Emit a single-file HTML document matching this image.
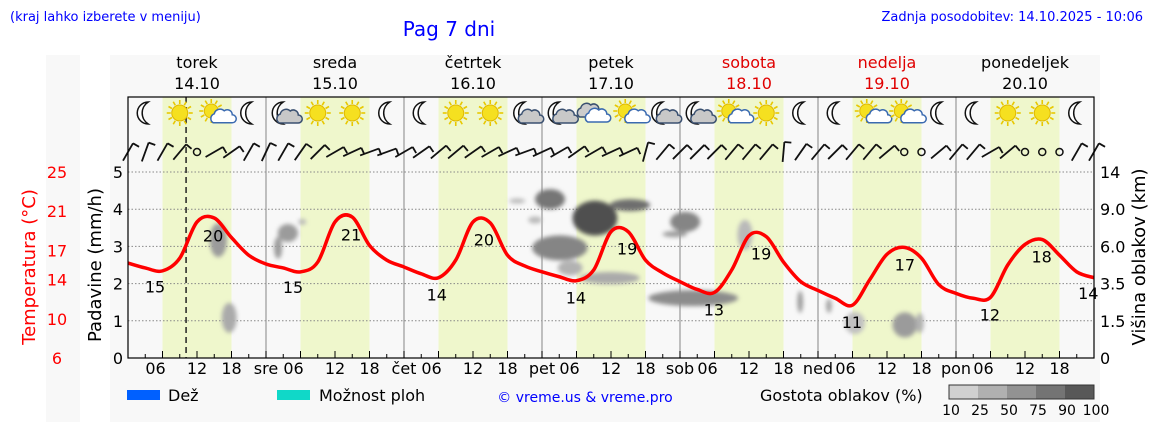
<!DOCTYPE html>
<html><head><meta charset="utf-8">
<style>
body{margin:0;background:#fff;font-family:"Liberation Sans","DejaVu Sans",sans-serif;}
svg{display:block}
text{font-family:"DejaVu Sans","Liberation Sans",sans-serif;}
</style></head>
<body>
<svg id="c" width="1152" height="443" viewBox="0 0 1152 443" xmlns="http://www.w3.org/2000/svg">
<defs>
<filter id="bl" x="-50%" y="-50%" width="200%" height="200%"><feGaussianBlur stdDeviation="2"/></filter>
</defs>
<rect x="46" y="55" width="34" height="367" fill="#f8f8f8"/>
<rect x="110" y="55" width="990" height="367" fill="#f8f8f8"/>
<text x="10" y="21" font-size="13" fill="#0000ff">(kraj lahko izberete v meniju)</text>
<text x="449" y="36" font-size="20" fill="#0000ff" text-anchor="middle">Pag 7 dni</text>
<text x="1143" y="21" font-size="13" fill="#0000ff" text-anchor="end">Zadnja posodobitev: 14.10.2025 - 10:06</text>
<g id="bands"></g>
<g id="grid"></g>
<g id="clouds" filter="url(#bl)"></g>
<g id="icons"></g>
<g id="wind"></g>
<g id="temp"></g>
<g id="axes"></g>
<g id="legend"></g>
</svg>
<script>
const days=["torek","sreda","četrtek","petek","sobota","nedelja","ponedeljek"];
const dates=["14.10","15.10","16.10","17.10","18.10","19.10","20.10"];
const dayAbbr=["sre","čet","pet","sob","ned","pon"];
const weekend=[false,false,false,false,true,true,false];
const rainTicks=[0,1,2,3,4,5];
const tempTicks=[6,10,14,17,21,25];
const cloudTicks=["0","1.5","3.5","6.0","9.0","14"];
// temperature every 3 hours from Tue 00:00
const temps=[15.7,15.2,14.9,16.2,19.9,20.3,18.3,16.5,15.6,15.2,14.8,15.8,19.9,20.4,17.5,16.0,15.3,14.6,14.2,16.0,19.9,19.8,16.5,15.4,14.8,14.3,13.9,15.0,18.9,18.9,16.0,14.7,13.8,13.0,12.7,15.0,18.5,18.4,15.8,13.8,12.9,12.1,11.4,14.0,16.6,17.3,16.2,13.5,12.6,12.1,12.2,15.5,17.6,18.1,16.5,14.8,14.2];
const labelHours=[4.7,14.8,28.7,38.8,53.7,61.9,77.9,86.8,101.9,110.1,125.9,135.1,149.9,158.9,167];
const labelVals=[15,20,15,21,14,20,14,19,13,19,11,17,12,18,14];
// icons per 6h slot
const icons=["moon","sun","suncloud","moon","mooncloud","sun","sun","moon","moon","sun","sun","mooncloud","mooncloud","clouds","suncloud","mooncloud","mooncloud","suncloud","sun","moon","moon","suncloud","suncloud","moon","moon","sun","sun","moon"];
// wind: angle of shaft from vertical, -1 = calm
const wind=[30,20,30,40,-1,60,55,30,25,30,35,45,60,65,70,70,60,55,50,50,55,60,65,70,65,60,55,60,65,65,15,40,45,45,45,40,40,40,5,35,40,45,40,40,50,-1,-1,50,40,40,60,50,-1,-1,-1,30,30];
// cloud cells: hour, rain-axis level, width (h), height (px), density %
const cloudHour=[15.7,17.6,26.1,27.8,30.3,67.7,70.8,73.4,81.2,87.3,75.1,76.9,83.8,96.9,95.1,98.3,107.3,116.9,121.9,126.4,135.1,137.7];
const cloudRain=[3.17,1.08,2.96,3.36,3.66,4.22,3.71,4.27,3.76,4.11,2.96,2.42,2.15,3.66,3.33,1.61,3.31,1.51,1.4,0.94,0.89,0.94];
const cloudW=[3,2.6,1.4,3.5,1.4,2.8,2.4,5.2,7.8,7,9.6,4.3,10.4,5.2,4.3,15.6,2.6,1,1,3.5,4.3,1.4];
const cloudH=[34,30,22,18,6,5,7,20,35,12,25,15,12,20,6,16,30,22,14,22,25,20];
const cloudD=[40,30,40,40,20,20,20,65,90,70,55,25,30,55,40,50,20,40,35,15,40,25];

const svg=document.getElementById('c');
const NS="http://www.w3.org/2000/svg";
const X0=128,DAYW=138,Y0=358,Y5=172;
const xH=h=>X0+h*DAYW/24;
const yR=r=>Y0-(Y0-Y5)*r/5;
const yT=t=>Y0-(t-6)*(Y0-Y5)/19;
function mk(tag,attrs,parent,text){const e=document.createElementNS(NS,tag);for(const k in attrs)e.setAttribute(k,attrs[k]);if(text!==undefined)e.textContent=text;(parent||svg).appendChild(e);return e;}
const G=id=>document.getElementById(id);

const bands=G('bands');
const plotBg=mk('rect',{x:X0,y:97,width:xH(168)-X0,height:Y0-97,fill:'#f8f8f8'},bands);


for(let d=0;d<7;d++){
 const b=mk('rect',{x:xH(d*24+6),y:97,width:DAYW/2,height:Y0-97,fill:'#eff7cc'},bands);
 
 
 const n=mk('text',{x:xH(d*24+12),y:68,'font-size':16,'text-anchor':'middle',fill:weekend[d]?'#e00000':'#000'},svg,days[d]);
 
 
 const dt=mk('text',{x:xH(d*24+12),y:89,'font-size':16,'text-anchor':'middle',fill:weekend[d]?'#e00000':'#000'},svg,dates[d]);
 
 
}
const grid=G('grid');
for(const r of rainTicks.slice(1)){
 const l=mk('line',{x1:X0,x2:xH(168),y1:yR(r),y2:yR(r),stroke:'#888','stroke-dasharray':'1.5,2','stroke-width':1},grid);
 
 
}
for(let d=1;d<7;d++){
 const l=mk('line',{x1:xH(d*24),x2:xH(d*24),y1:97,y2:Y0,stroke:'#999','stroke-width':1.2},grid);
 
 
}
const now=mk('line',{x1:xH(10.1),x2:xH(10.1),y1:97,y2:Y0,stroke:'#222','stroke-width':1.5,'stroke-dasharray':'6,4'},grid);



const grey=d=>{const v=Math.round(215-d*1.5);return `rgb(${v},${v},${v})`;};
for(let i=0;i<cloudHour.length;i++){
 const e=mk('ellipse',{cx:xH(cloudHour[i]),cy:yR(cloudRain[i]),rx:cloudW[i]*DAYW/48,ry:cloudH[i]/2,fill:grey(cloudD[i])},G('clouds'));
 
 
}

function sun(g,cx,cy,r){for(let a=0;a<12;a++){const t=a*Math.PI/6;mk('line',{x1:cx+Math.cos(t)*(r+1),y1:cy+Math.sin(t)*(r+1),x2:cx+Math.cos(t)*(r+5),y2:cy+Math.sin(t)*(r+5),stroke:'#e8c800','stroke-width':1.6},g);}mk('circle',{cx,cy,r,fill:'#f5e020',stroke:'#e0b800'},g);}
function moon(g,cx,cy){mk('path',{d:`M${cx+3} ${cy-11} A11 11 0 1 0 ${cx+3} ${cy+11} A13 13 0 0 1 ${cx+3} ${cy-11}Z`,fill:'#fff',stroke:'#111','stroke-width':1.5},g);}
function cloud(g,cx,cy,s,fill,stroke){mk('path',{d:`M${cx-10*s} ${cy+6*s} a5 5 0 0 1 1 -9 a6 6 0 0 1 10 -3 a5 5 0 0 1 8 4 a4 4 0 0 1 0 8 Z`,fill,stroke,'stroke-width':1.5},g);}
icons.forEach((t,i)=>{
 const cx=xH(i*6+3),cy=113;
 const g=mk('g',{},G('icons'));
 
 
 if(t==='moon')moon(g,cx,cy);
 if(t==='sun')sun(g,cx,cy,8);
 if(t==='suncloud'){sun(g,cx-3,cy-2,7);cloud(g,cx+7,cy+5,0.8,'#fff','#3a6ab0');}
 if(t==='mooncloud'){moon(g,cx-3,cy);cloud(g,cx+6,cy+4,1,'#c8c8c8','#3a5070');}
 if(t==='clouds'){cloud(g,cx-4,cy-2,1,'#ccc','#3a5070');cloud(g,cx+4,cy+3,1,'#fff','#3a6ab0');}
});

wind.forEach((a,i)=>{
 const cx=xH(i*3),cy=152;
 const g=mk('g',{},G('wind'));
 
 
 if(a<0){mk('circle',{cx,cy,r:3.5,fill:'none',stroke:'#111','stroke-width':1.5},g);return;}
 const t=a*Math.PI/180,L=20;
 const x1=cx-Math.sin(t)*L/2,y1=cy+Math.cos(t)*L/2,x2=cx+Math.sin(t)*L/2,y2=cy-Math.cos(t)*L/2;
 mk('line',{x1,y1,x2,y2,stroke:'#111','stroke-width':1.8},g);
 mk('line',{x1:x2,y1:y2,x2:x2+Math.cos(t)*7,y2:y2+Math.sin(t)*7,stroke:'#111','stroke-width':1.8},g);
});

const pts=temps.map((t,i)=>[xH(i*3),yT(t)]);
let d=`M${pts[0][0]} ${pts[0][1]}`;
for(let i=0;i<pts.length-1;i++){
 const p0=pts[Math.max(0,i-1)],p1=pts[i],p2=pts[i+1],p3=pts[Math.min(pts.length-1,i+2)];
 d+=` C${p1[0]+(p2[0]-p0[0])/6} ${p1[1]+(p2[1]-p0[1])/6} ${p2[0]-(p3[0]-p1[0])/6} ${p2[1]-(p3[1]-p1[1])/6} ${p2[0]} ${p2[1]}`;
}
const tl=mk('path',{d,fill:'none',stroke:'#ff0000','stroke-width':3.5,'stroke-linejoin':'round'},G('temp'));


const tAt=h=>{const i=Math.min(temps.length-2,Math.floor(h/3)),f=h/3-i;return temps[i]*(1-f)+temps[i+1]*f;};
labelHours.forEach((h,i)=>{
 const tx=mk('text',{x:xH(h),y:yT(tAt(h))+23,'font-size':16,'text-anchor':'middle',fill:'#000'},G('temp'),labelVals[i]);
 
 
});

const ax=G('axes');
const fr=mk('rect',{x:X0,y:97,width:xH(168)-X0,height:Y0-97,fill:'none',stroke:'#000','stroke-width':1.2},ax);


rainTicks.forEach((r,i)=>{
 const a=mk('text',{x:123,y:yR(r)+6,'font-size':16,'text-anchor':'end'},ax,r);
 
 
 const b=mk('text',{x:1100,y:yR(r)+6,'font-size':16},ax,cloudTicks[i]);
 
 
});
tempTicks.forEach(t=>{
 const a=mk('text',{x:57,y:yT(t)+6,'font-size':16,'text-anchor':'middle',fill:'#ff0000'},ax,t);
 
 
});
for(let h=3;h<168;h+=3){
 const l=mk('line',{x1:xH(h),x2:xH(h),y1:Y0,y2:Y0-(h%6===0?7:4),stroke:'#000'},ax);
 
 
}
for(let dd=0;dd<7;dd++){
 [["06",-7],["12",0],["18",0]].forEach(([s,o],j)=>{
  const t=mk('text',{x:xH(dd*24+6+6*j)+o,y:374,'font-size':16,'text-anchor':'middle'},ax,s);
  
  
 });
 if(dd<6){const t=mk('text',{x:xH(dd*24+24),y:374,'font-size':16,'text-anchor':'middle'},ax,dayAbbr[dd]);
 
 }
}
const yl=mk('text',{transform:'translate(101,265) rotate(-90)','font-size':18,'text-anchor':'middle'},ax,'Padavine (mm/h)');


const tl2=mk('text',{transform:'translate(35,267) rotate(-90)','font-size':18,'text-anchor':'middle',fill:'#ff0000'},ax,'Temperatura (°C)');


const cl=mk('text',{transform:'translate(1145,257) rotate(-90)','font-size':18,'text-anchor':'middle'},ax,'Višina oblakov (km)');



const lg=G('legend');
const r1=mk('rect',{x:127,y:390,width:33,height:10,fill:'#0060ff'},lg);

const t1=mk('text',{x:168,y:401,'font-size':16},lg,'Dež');

const r2=mk('rect',{x:277,y:390,width:33,height:10,fill:'#10d8c8'},lg);

const t2=mk('text',{x:319,y:401,'font-size':16},lg,'Možnost ploh');

const cp=mk('text',{x:585,y:402,'font-size':14,fill:'#0000ff','text-anchor':'middle'},lg,'© vreme.us & vreme.pro');

const t3=mk('text',{x:760,y:401,'font-size':16},lg,'Gostota oblakov (%)');

const shades=['#d0d0d0','#b0b0b0','#929292','#747474','#585858'];
const lbl=['10','25','50','75','90','100'];
shades.forEach((c,i)=>{const r=mk('rect',{x:949+i*29,y:385,width:29,height:14,fill:c},lg);
});
mk('rect',{x:949,y:385,width:145,height:14,fill:'none',stroke:'#333'},lg);
lbl.forEach((s,i)=>{const t=mk('text',{x:951+i*29,y:415,'font-size':14,'text-anchor':'middle'},lg,s);
});
</script>
</body></html>
